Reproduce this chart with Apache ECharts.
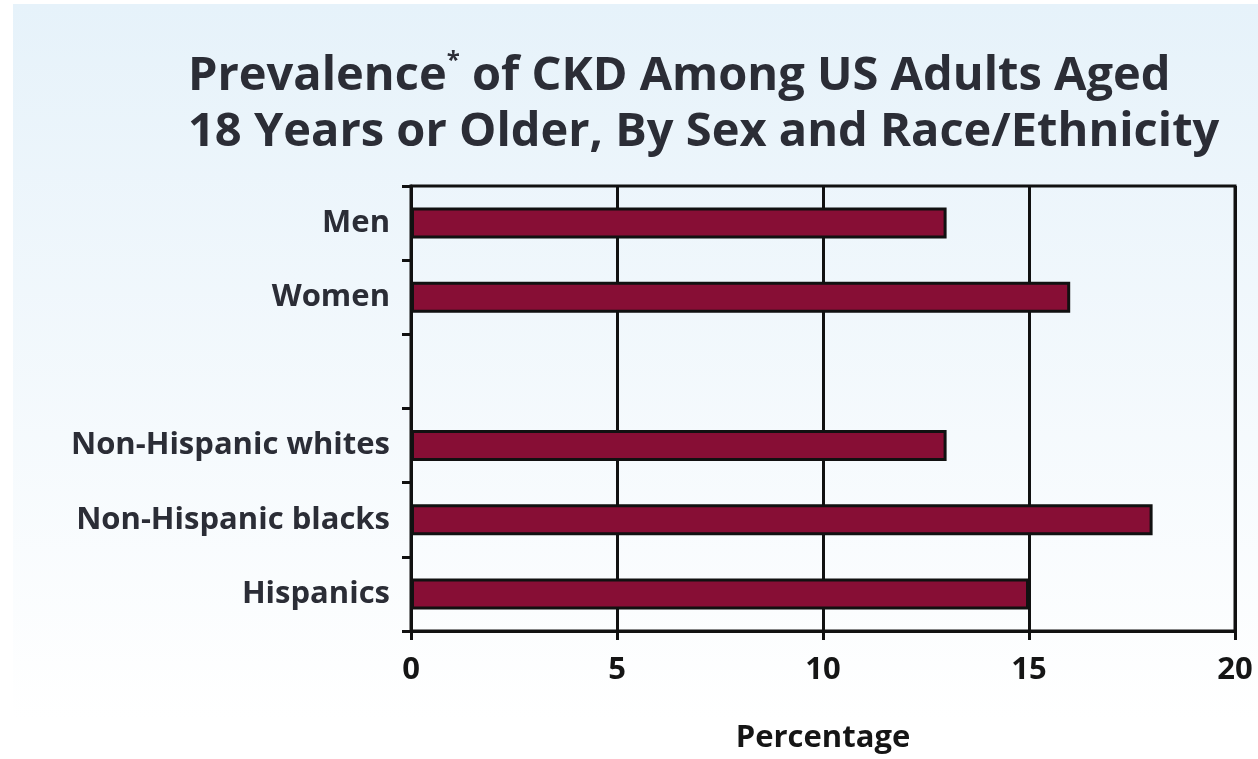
<!DOCTYPE html>
<html>
<head>
<meta charset="utf-8">
<script src="https://cdn.jsdelivr.net/npm/echarts@6/dist/echarts.min.js"></script>
<style>
  html, body { margin: 0; padding: 0; background: #ffffff; }
  #bg { position: absolute; left: 13px; top: 4px; right: 0; bottom: 0; background: linear-gradient(#e6f2fa, #ffffff 95%); }
  #myChart { position: absolute; left: 0; top: 0; width: 1258px; height: 759px; }
</style>
</head>
<body>
<div id="bg"></div>
<div id="myChart"></div>
<script>
const groups = ['Men', 'Women', ' ', 'Non-Hispanic whites', 'Non-Hispanic blacks', 'Hispanics'];
const prevalence = [13, 16, null, 13, 18, 15];
const xTicks = [0, 5, 10, 15, 20];

const mychart = echarts.init(document.getElementById('myChart'));
const font = '"Open Sans", "Noto Sans", sans-serif';

const options = {
  textStyle: { fontFamily: font },
  title: {
    left: 183,
    top: 44,
    textAlign: 'left',
    text: '{a|Prevalence}{s|*}{a| of CKD Among US Adults Aged}\n{a|18 Years or Older, By Sex and Race/Ethnicity}',
    textStyle: {
      align: 'center',
      rich: {
        a: { fontFamily: font, fontWeight: 'bold', fontSize: 47, color: '#2b2d36', lineHeight: 56 },
        s: { fontFamily: font, fontWeight: 'bold', fontSize: 24, color: '#2b2d36', verticalAlign: 'top', lineHeight: 56, padding: [0, 0, 20, 0] },
      },
    },
  },
  grid: {
    left: 411,
    right: 23,
    top: 186,
    bottom: 126,
    show: true,
    borderColor: '#111',
    borderWidth: 3,
    backgroundColor: 'transparent',
  },
  xAxis: {
    type: 'value',
    min: 0,
    max: 20,
    interval: 5,
    name: 'Percentage',
    nameLocation: 'middle',
    nameGap: 92,
    nameTextStyle: { fontFamily: font, fontWeight: 'bold', fontSize: 31, color: '#151515' },
    axisLine: { show: true, lineStyle: { color: '#111', width: 3 } },
    axisTick: { show: true, length: 9, lineStyle: { color: '#111', width: 3 } },
    axisLabel: {
      margin: 24,
      fontFamily: font,
      fontWeight: 'bold',
      fontSize: 31,
      color: '#151515',
      formatter: function (v) { return xTicks.indexOf(v) >= 0 ? String(v) : ''; },
    },
    splitLine: { show: true, lineStyle: { color: '#111', width: 3 } },
  },
  yAxis: {
    type: 'category',
    inverse: true,
    data: groups,
    axisLine: { show: true, lineStyle: { color: '#111', width: 3 } },
    axisTick: { show: true, length: 9, lineStyle: { color: '#111', width: 3 } },
    axisLabel: {
      margin: 21,
      fontFamily: font,
      fontWeight: 'bold',
      fontSize: 31,
      color: '#2b2d36',
    },
    splitLine: { show: false },
  },
  series: [
    {
      type: 'bar',
      data: prevalence,
      barWidth: 31,
      itemStyle: { color: '#870e35', borderColor: '#111', borderWidth: 3 },
      silent: true,
    },
  ],
};
mychart.setOption(options);
</script>
</body>
</html>
